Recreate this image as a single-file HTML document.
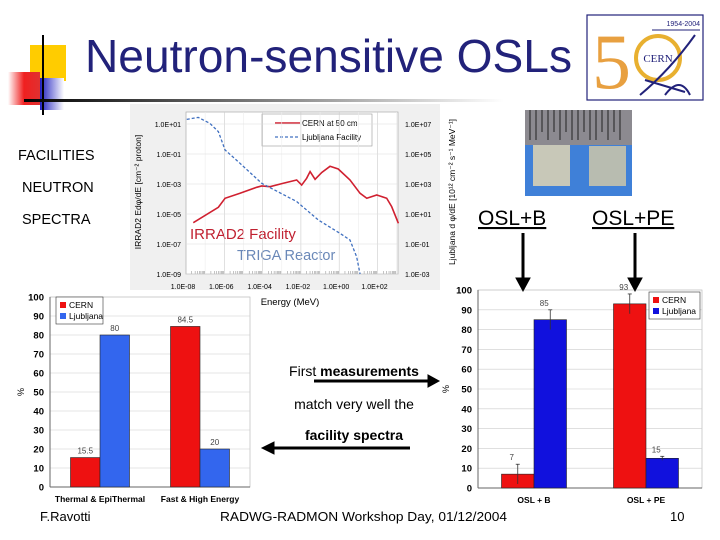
<!DOCTYPE html>
<html><head><meta charset="utf-8"><style>
body{margin:0;background:#fff;}
svg{display:block;font-family:"Liberation Sans",sans-serif;}
</style></head><body>
<svg id="s" width="720" height="540" viewBox="0 0 720 540" xmlns="http://www.w3.org/2000/svg">
<defs>
<linearGradient id="hl" x1="0" x2="1"><stop offset="0" stop-color="#000"/><stop offset="1" stop-color="#fff"/></linearGradient>
<linearGradient id="rg" x1="0" x2="1"><stop offset="0" stop-color="#fff"/><stop offset="0.5" stop-color="#f02020"/><stop offset="1" stop-color="#e03030"/></linearGradient>
<linearGradient id="bg" x1="0" x2="1"><stop offset="0" stop-color="#2020c0"/><stop offset="1" stop-color="#fff"/></linearGradient>
</defs>
<g>
<rect x="30" y="45" width="36" height="36" fill="#ffcc00"/>
<rect x="40" y="78" width="24" height="32" fill="url(#bg)"/>
<rect x="8" y="72" width="32" height="33" fill="url(#rg)"/>
<line x1="43" y1="35" x2="43" y2="115" stroke="#000" stroke-width="2"/>
<rect x="24" y="99" width="480" height="3" fill="url(#hl)"/>
</g>
<text x="85" y="72" font-size="46" fill="#22227a" textLength="487" lengthAdjust="spacingAndGlyphs">Neutron-sensitive OSLs</text>
<g>
<rect x="587" y="15" width="116" height="85" fill="#fff" stroke="#22227a" stroke-width="1.2"/>
<text x="592" y="88" font-size="78" fill="#e8a040" font-family="Liberation Serif,serif">5</text>
<circle cx="658" cy="58" r="22" fill="none" stroke="#e8b030" stroke-width="4"/>
<text x="658" y="62" font-size="11" fill="#22227a" text-anchor="middle" font-family="Liberation Serif,serif">CERN</text>
<text x="700" y="26" font-size="7" fill="#22227a" text-anchor="end">1954-2004</text>
<line x1="652" y1="30" x2="700" y2="30" stroke="#22227a"/>
<path d="M640 95 Q670 70 695 35 M665 95 Q680 75 690 95 M645 80 L685 92" fill="none" stroke="#22227a" stroke-width="2"/>
</g>
<g font-size="14.5" fill="#000">
<text x="18" y="160">FACILITIES</text>
<text x="22" y="192">NEUTRON</text>
<text x="22" y="224">SPECTRA</text>
</g>
<g id="spec">
<rect x="130" y="104" width="310" height="186" fill="#f0f0f0"/>
<rect x="186" y="112" width="212" height="162" fill="#fff" stroke="#aaa" stroke-width="0.7"/>
<rect x="262" y="114" width="110" height="32" fill="#fff" stroke="#999" stroke-width="0.6"/>
<line x1="275" y1="123" x2="300" y2="123" stroke="#d02030" stroke-width="1.5"/>
<text x="302" y="126" font-size="8">CERN at 50 cm</text>
<line x1="275" y1="137" x2="300" y2="137" stroke="#4070c0" stroke-width="1.2" stroke-dasharray="3 2"/>
<text x="302" y="140" font-size="8">Ljubljana Facility</text>
<text x="141" y="192" font-size="8.5" text-anchor="middle" transform="rotate(-90 141 192)">IRRAD2 Edφ/dE [cm⁻² proton]</text>
<text x="455" y="192" font-size="8.5" text-anchor="middle" transform="rotate(-90 455 192)">Ljubljana d φ/dE [10¹² cm⁻² s⁻¹ MeV⁻¹]</text>
<text x="290" y="305" font-size="9.5" text-anchor="middle">Energy (MeV)</text>
<text x="190" y="239" font-size="15" fill="#c02030">IRRAD2 Facility</text>
<text x="237" y="260" font-size="14.5" fill="#6a88b8">TRIGA Reactor</text>
</g>
<g>
<rect x="525" y="110" width="107" height="86" fill="#3f80d8"/>
<rect x="525" y="110" width="107" height="35" fill="#8c8a90"/>
<g stroke="#222" stroke-width="1">
<path d="M530 110v30M536 110v30M542 110v22M548 110v30M554 110v22M560 110v30M566 110v22M572 110v30M578 110v30M584 110v22M590 110v30M596 110v30M602 110v22M608 110v30M614 110v22M620 110v30"/>
</g>
<rect x="533" y="145" width="37" height="41" fill="#c8c8b8"/>
<rect x="589" y="146" width="37" height="40" fill="#b8bcb0"/>
</g>
<text x="478" y="225" font-size="21" text-decoration="underline">OSL+B</text>
<text x="592" y="225" font-size="21" text-decoration="underline">OSL+PE</text>
<g id="lb"></g>
<g id="rb"></g>
<g font-size="14" text-anchor="middle">
<text x="354" y="376">First <tspan font-weight="bold">measurements</tspan></text>
<text x="354" y="409">match very well the</text>
<text x="354" y="440" font-weight="bold">facility spectra</text>
</g>
<g fill="#000" stroke="#000">
<line x1="523" y1="233" x2="523" y2="280" stroke-width="3"/><path d="M516 278h14l-7 13z"/>
<line x1="635" y1="233" x2="635" y2="280" stroke-width="3"/><path d="M628 278h14l-7 13z"/>
<line x1="314" y1="381" x2="430" y2="381" stroke-width="3"/><path d="M428 375v12l11-6z"/>
<line x1="410" y1="448" x2="272" y2="448" stroke-width="3"/><path d="M274 442v12l-12-6z"/>
</g>
<g font-size="13">
<text x="40" y="521">F.Ravotti</text>
<text x="220" y="521" textLength="287" lengthAdjust="spacingAndGlyphs">RADWG-RADMON Workshop Day, 01/12/2004</text>
<text x="670" y="521">10</text>
</g>
</svg>
<script>
// spectrum data: log10(E/MeV), log10(flux)
const cernLogE=[-7.62,-6.31,-5.96,-5.18,-4.31,-4.05,-3.61,-2.92,-2.22,-1.96,-1.70,-1.52,-1.26,-0.91,-0.48,-0.05,0.56,1.09,1.44,1.96,2.48,2.74,3.09];
const cernLogFlux=[-5.58,-4.55,-3.95,-3.62,-3.22,-3.13,-3.18,-2.95,-2.73,-3.07,-2.62,-2.17,-2.69,-2.23,-1.82,-2.0,-2.73,-3.62,-3.95,-3.73,-3.95,-4.51,-5.62];
const ljLogE=[-7.96,-7.36,-6.75,-6.31,-5.96,-5.18,-4.05,-2.22,-1.09,0.04,0.56,0.91,1.09];
const ljLogFlux=[7.31,7.44,7.04,6.49,5.27,4.38,3.05,1.83,0.6,-0.29,-0.73,-1.85,-3.0];
const xTicks=["1.0E-08","1.0E-06","1.0E-04","1.0E-02","1.0E+00","1.0E+02"];
const yLeftTicks=["1.0E+01","1.0E-01","1.0E-03","1.0E-05","1.0E-07","1.0E-09"];
const yRightTicks=["1.0E+07","1.0E+05","1.0E+03","1.0E+01","1.0E-01","1.0E-03"];
// bar charts
const leftCats=["Thermal & EpiThermal","Fast & High Energy"];
const leftCern=[15.5,84.5];
const leftLj=[80,20];
const rightCats=["OSL + B","OSL + PE"];
const rightCern=[7,93];
const rightLj=[85,15];
const rightCernErr=[5,5];
const rightLjErr=[5,1];
const barTicks=[0,10,20,30,40,50,60,70,80,90,100];

const NS="http://www.w3.org/2000/svg";
function mk(p,t,a){const e=document.createElementNS(NS,t);for(const k in a)e.setAttribute(k,a[k]);p.appendChild(e);return e;}
const spec=document.getElementById('spec');
const sx=l=>186+(l+8)*19.15;
const syL=l=>274-(l+9)*15;
const syR=l=>274-(l+3)*15;
const gridG=mk(spec,'g',{});


for(let d=-7;d<=3;d++){const x=sx(d);mk(gridG,'line',{x1:x,x2:x,y1:112,y2:274,stroke:d%2===0?'#ccc':'#eee','stroke-width':0.6});
 for(let m=2;m<10;m++){const xm=sx(d-1+Math.log10(m));mk(gridG,'line',{x1:xm,x2:xm,y1:271,y2:274,stroke:'#888','stroke-width':0.5});}}
xTicks.forEach((t,i)=>{const tx=mk(spec,'text',{x:sx(-8+2*i)-3,y:289,'font-size':7,'text-anchor':'middle'});tx.textContent=t;

});
yLeftTicks.forEach((t,i)=>{const y=syL(1-2*i);mk(gridG,'line',{x1:186,x2:398,y1:y,y2:y,stroke:'#ddd','stroke-width':0.5});
const tx=mk(spec,'text',{x:181,y:y+3,'font-size':7,'text-anchor':'end'});tx.textContent=t;

});
yRightTicks.forEach((t,i)=>{const tx=mk(spec,'text',{x:405,y:syR(7-2*i)+3,'font-size':7});tx.textContent=t;

});
const cp=mk(spec,'polyline',{points:cernLogE.map((e,i)=>sx(e)+','+syL(cernLogFlux[i])).join(' '),fill:'none',stroke:'#d02030','stroke-width':1.6});


const lp=mk(spec,'polyline',{points:ljLogE.map((e,i)=>sx(e)+','+Math.min(274,syR(ljLogFlux[i]))).join(' '),fill:'none',stroke:'#4070c0','stroke-width':1.3,'stroke-dasharray':'3 2'});



function barChart(g,o){
 const y=v=>o.y0-(o.y0-o.y100)*v/100;
 const cw=(o.x1-o.x0)/o.cats.length;
 mk(g,'rect',{x:o.x0,y:o.y100,width:o.x1-o.x0,height:o.y0-o.y100,fill:'#fff',stroke:'#bbb','stroke-width':0.7});
 barTicks.forEach(t=>{mk(g,'line',{x1:o.x0,x2:o.x1,y1:y(t),y2:y(t),stroke:'#ccc','stroke-width':0.6});
  const tx=mk(g,'text',{x:o.x0-6,y:y(t)+3.5,'font-size':9.5,'font-weight':'bold','text-anchor':'end'});tx.textContent=t;
  
  });
 mk(g,'line',{x1:o.x0,x2:o.x0,y1:o.y100,y2:o.y0,stroke:'#666'});
 mk(g,'line',{x1:o.x0,x2:o.x1,y1:o.y0,y2:o.y0,stroke:'#666'});
 const yl=mk(g,'text',{x:o.ylx,y:(o.y0+o.y100)/2,'font-size':9,'text-anchor':'middle',transform:`rotate(-90 ${o.ylx} ${(o.y0+o.y100)/2})`});yl.textContent='%';
 o.cats.forEach((c,i)=>{
  const cx=o.x0+cw*(i+0.5);
  [[o.a,'#ee1111',o.ea],[o.b,o.bc,o.eb]].forEach((s,j)=>{
   const v=s[0][i];const x=cx-o.bw+j*o.bw;
   const r=mk(g,'rect',{x:x,y:y(v),width:o.bw,height:o.y0-y(v),fill:s[1],stroke:'#222','stroke-width':0.6});
   
   
   if(s[2]){const e=s[2][i];mk(g,'line',{x1:x+o.bw/2,x2:x+o.bw/2,y1:y(v+e),y2:y(v-e),stroke:'#333','stroke-width':0.8});
    mk(g,'line',{x1:x+o.bw/2-2,x2:x+o.bw/2+2,y1:y(v+e),y2:y(v+e),stroke:'#333','stroke-width':0.8});}
   const lt=mk(g,'text',{x:x+o.bw/2-(o.ea?6:0),y:y(v+(s[2]?s[2][i]:0))-4,'font-size':8,'text-anchor':'middle',fill:'#444'});lt.textContent=v;
   
   
  });
  const ct=mk(g,'text',{x:cx,y:o.y0+15,'font-size':8.5,'font-weight':'bold','text-anchor':'middle'});ct.textContent=c;
  
  
 });
 const lg=mk(g,'g',{});
 
 
 mk(lg,'rect',{x:o.lx,y:o.ly,width:o.lw,height:27,fill:'#fff',stroke:'#333','stroke-width':0.6});
 mk(lg,'rect',{x:o.lx+4,y:o.ly+5,width:6,height:6,fill:'#ee1111'});
 mk(lg,'rect',{x:o.lx+4,y:o.ly+16,width:6,height:6,fill:o.bc});
 const l1=mk(lg,'text',{x:o.lx+13,y:o.ly+11,'font-size':8.5});l1.textContent='CERN';
 const l2=mk(lg,'text',{x:o.lx+13,y:o.ly+22,'font-size':8.5});l2.textContent='Ljubljana';
}
barChart(document.getElementById('lb'),{x0:50,x1:250,y0:487,y100:297,cats:leftCats,a:leftCern,b:leftLj,bc:'#3366ee',bw:29.5,ylx:24,lx:56,ly:297,lw:47});
barChart(document.getElementById('rb'),{x0:478,x1:702,y0:488,y100:290,cats:rightCats,a:rightCern,b:rightLj,bc:'#1111dd',bw:32.5,ea:rightCernErr,eb:rightLjErr,ylx:449,lx:649,ly:292,lw:51});
</script>
</body></html>
